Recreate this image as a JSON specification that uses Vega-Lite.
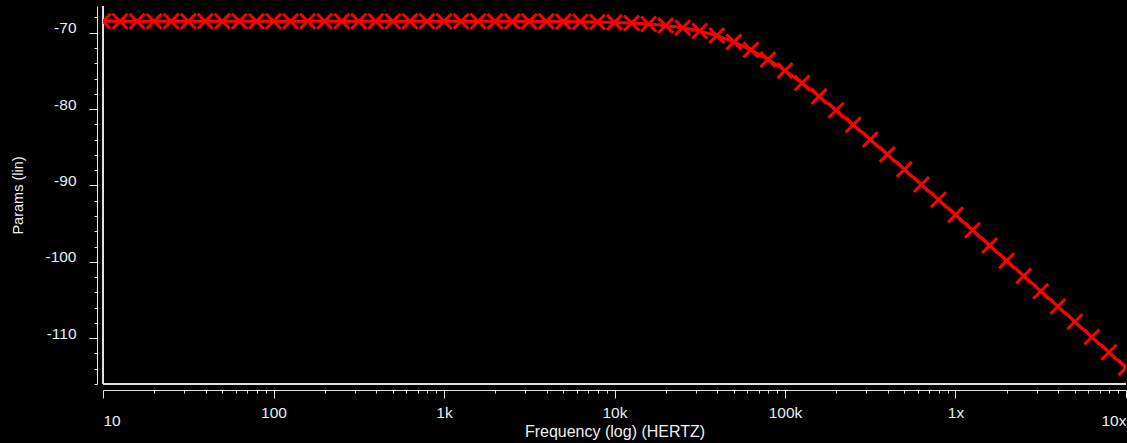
{
  "$schema": "https://vega.github.io/schema/vega-lite/v6.json",
  "autosize": {"type": "none"},
  "padding": {"left": 103, "top": 6, "right": 1, "bottom": 59},
  "width": 1023,
  "height": 378,
  "background": "black",
  "config": {
    "view": {"fill": "black", "stroke": null},
    "axis": {
      "grid": false,
      "domainColor": "#e0e0e0",
      "tickColor": "#e0e0e0",
      "labelColor": "#e8eef4",
      "titleColor": "#f0f0f0",
      "labelFont": "Liberation Sans",
      "titleFont": "Liberation Sans",
      "labelFontSize": 15.5,
      "titleFontWeight": "normal",
      "labelFlush": false,
      "labelOverlap": false,
      "offset": 6
    }
  },
  "data": {
    "values": [
      {"f": 10, "v": -68.5}, {"f": 12.589, "v": -68.5}, {"f": 15.849, "v": -68.5}, {"f": 19.953, "v": -68.5}, {"f": 25.119, "v": -68.5},
      {"f": 31.623, "v": -68.5}, {"f": 39.811, "v": -68.5}, {"f": 50.119, "v": -68.5}, {"f": 63.096, "v": -68.5}, {"f": 79.433, "v": -68.5},
      {"f": 100, "v": -68.5}, {"f": 125.89, "v": -68.5}, {"f": 158.49, "v": -68.5}, {"f": 199.53, "v": -68.5}, {"f": 251.19, "v": -68.5},
      {"f": 316.23, "v": -68.5}, {"f": 398.11, "v": -68.5}, {"f": 501.19, "v": -68.5}, {"f": 630.96, "v": -68.5}, {"f": 794.33, "v": -68.5},
      {"f": 1000, "v": -68.5}, {"f": 1258.9, "v": -68.5}, {"f": 1584.9, "v": -68.5}, {"f": 1995.3, "v": -68.51}, {"f": 2511.9, "v": -68.51},
      {"f": 3162.3, "v": -68.51}, {"f": 3981.1, "v": -68.52}, {"f": 5011.9, "v": -68.54}, {"f": 6309.6, "v": -68.56}, {"f": 7943.3, "v": -68.59},
      {"f": 10000, "v": -68.65}, {"f": 12589, "v": -68.73}, {"f": 15849, "v": -68.86}, {"f": 19953, "v": -69.06}, {"f": 25119, "v": -69.35},
      {"f": 31623, "v": -69.78}, {"f": 39811, "v": -70.38}, {"f": 50119, "v": -71.2}, {"f": 63096, "v": -72.24}, {"f": 79433, "v": -73.5},
      {"f": 100000, "v": -74.96}, {"f": 125890, "v": -76.59}, {"f": 158490, "v": -78.33}, {"f": 199530, "v": -80.16}, {"f": 251190, "v": -82.05},
      {"f": 316230, "v": -83.98}, {"f": 398110, "v": -85.93}, {"f": 501190, "v": -87.9}, {"f": 630960, "v": -89.88}, {"f": 794330, "v": -91.87},
      {"f": 1000000, "v": -93.86}, {"f": 1258900, "v": -95.86}, {"f": 1584900, "v": -97.86}, {"f": 1995300, "v": -99.86}, {"f": 2511900, "v": -101.85},
      {"f": 3162300, "v": -103.85}, {"f": 3981100, "v": -105.85}, {"f": 5011900, "v": -107.85}, {"f": 6309600, "v": -109.85}, {"f": 7943300, "v": -111.85},
      {"f": 10000000, "v": -113.85}
    ]
  },
  "encoding": {
    "x": {
      "field": "f",
      "type": "quantitative",
      "scale": {"type": "log", "domain": [10, 10000000], "nice": false},
      "axis": {
        "orient": "bottom",
        "title": "Frequency (log) (HERTZ)",
        "titleFontSize": 16,
        "titlePadding": -5,
        "values": [10, 20, 30, 40, 50, 60, 70, 80, 90,
                   100, 200, 300, 400, 500, 600, 700, 800, 900,
                   1000, 2000, 3000, 4000, 5000, 6000, 7000, 8000, 9000,
                   10000, 20000, 30000, 40000, 50000, 60000, 70000, 80000, 90000,
                   100000, 200000, 300000, 400000, 500000, 600000, 700000, 800000, 900000,
                   1000000, 2000000, 3000000, 4000000, 5000000, 6000000, 7000000, 8000000, 9000000,
                   10000000],
        "labelExpr": "datum.value == 10 ? '10' : datum.value == 100 ? '100' : datum.value == 1000 ? '1k' : datum.value == 10000 ? '10k' : datum.value == 100000 ? '100k' : datum.value == 1000000 ? '1x' : datum.value == 10000000 ? '10x' : ''",
        "tickSize": {"condition": {"test": "indexof([10,100,1000,10000,100000,1000000,10000000], datum.value) >= 0", "value": 8}, "value": 3},
        "labelAlign": {"condition": [{"test": "datum.value == 10", "value": "left"}, {"test": "datum.value == 10000000", "value": "right"}], "value": "center"},
        "labelPadding": {"condition": {"test": "datum.value == 10 || datum.value == 10000000", "value": 15}, "value": 7},
        "labelBaseline": "top"
      }
    },
    "y": {
      "field": "v",
      "type": "quantitative",
      "scale": {"domain": [-116, -66.5], "nice": false, "zero": false},
      "axis": {
        "orient": "left",
        "title": "Params (lin)",
        "titleFontSize": 14.5,
        "titlePadding": 19,
        "values": [-116, -114, -112, -110, -108, -106, -104, -102, -100, -98, -96, -94, -92, -90, -88, -86, -84, -82, -80, -78, -76, -74, -72, -70, -68],
        "labelExpr": "datum.value % 10 == 0 ? toString(datum.value) : ''",
        "tickSize": {"condition": {"test": "datum.value % 10 == 0", "value": 8}, "value": 3},
        "labelBaseline": "alphabetic",
        "labelPadding": 13
      }
    }
  },
  "layer": [
    {"mark": {"type": "rule", "color": "#e0e0e0", "strokeWidth": 1.5}, "encoding": {"x": {"datum": 10}, "y": null}},
    {"mark": {"type": "rule", "color": "#e0e0e0", "strokeWidth": 1.5}, "encoding": {"y": {"datum": -116}, "x": null}},
    {"mark": {"type": "line", "color": "#ff0000", "strokeWidth": 3, "clip": true}},
    {"mark": {"type": "point", "shape": "M-1,-1L1,1M-1,1L1,-1", "size": 225, "strokeWidth": 3, "color": "#ff0000", "filled": false, "opacity": 1, "clip": true}}
  ]
}
